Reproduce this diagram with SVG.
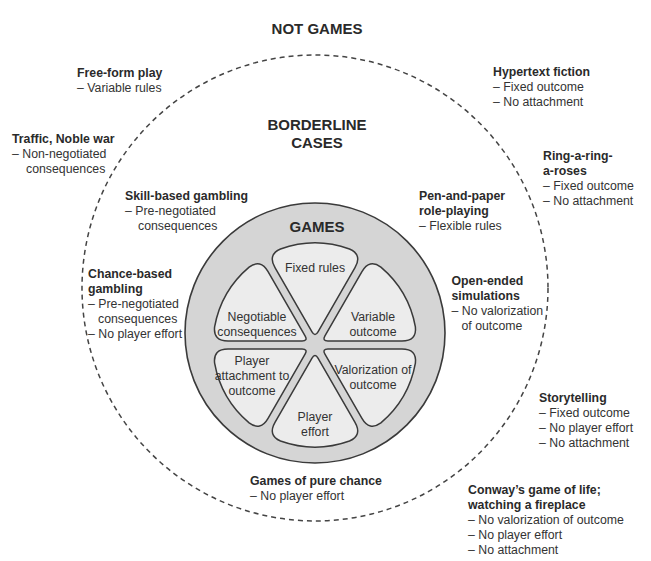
<svg xmlns="http://www.w3.org/2000/svg" xmlns:xlink="http://www.w3.org/1999/xlink" width="651" height="561" viewBox="0 0 651 561">
<style>
  .t { font-family: "Liberation Sans", Arial, sans-serif; font-size: 12.3px; fill: #333; }
  .b { font-weight: bold; fill: #2a2a2a; }
  .h { font-family: "Liberation Sans", Arial, sans-serif; font-size: 15px; font-weight: bold; fill: #2a2a2a; text-anchor: middle; }
  .c { text-anchor: middle; }
  .dash { fill: none; stroke: #444; stroke-width: 1.5; stroke-dasharray: 5 4; }
  .games { fill: #d5d5d5; stroke: #3a3a3a; stroke-width: 1.6; }
  .petal { fill: #ececec; stroke: #3a3a3a; stroke-width: 1.5; }
</style>
<defs>
  <path id="petal" d="M -3,-13.2 Q 0,-8 3,-13.2 L 40,-77.3 Q 47.5,-90.3 34.5,-96 A 102 102 0 0 0 -34.5,-96 Q -47.5,-90.3 -40,-77.3 Z"/>
</defs>
<rect width="651" height="561" fill="#ffffff"/>

<g id="not-games">
  <text class="h" x="317" y="34">NOT GAMES</text>
</g>

<g id="borderline">
  <circle class="dash" cx="315" cy="288" r="233"/>
  <text class="h" x="317" y="130">BORDERLINE</text>
  <text class="h" x="317" y="148">CASES</text>
</g>

<g id="games">
  <circle class="games" cx="315" cy="333" r="130"/>
  <text class="h" x="317" y="232">GAMES</text>
</g>

<g id="petal-fixed-rules">
  <use xlink:href="#petal" class="petal" transform="translate(315,345)"/>
  <text class="t c" x="315" y="272">Fixed rules</text>
</g>
<g id="petal-variable-outcome">
  <use xlink:href="#petal" class="petal" transform="translate(315,345) rotate(60)"/>
  <text class="t c" x="373" y="321">Variable</text>
  <text class="t c" x="373" y="336">outcome</text>
</g>
<g id="petal-valorization">
  <use xlink:href="#petal" class="petal" transform="translate(315,345) rotate(120)"/>
  <text class="t c" x="373" y="373.5">Valorization of</text>
  <text class="t c" x="373" y="388.5">outcome</text>
</g>
<g id="petal-player-effort">
  <use xlink:href="#petal" class="petal" transform="translate(315,345) rotate(180)"/>
  <text class="t c" x="315" y="421">Player</text>
  <text class="t c" x="315" y="436">effort</text>
</g>
<g id="petal-player-attachment">
  <use xlink:href="#petal" class="petal" transform="translate(315,345) rotate(240)"/>
  <text class="t c" x="252" y="365">Player</text>
  <text class="t c" x="252" y="380">attachment to</text>
  <text class="t c" x="252" y="395">outcome</text>
</g>
<g id="petal-negotiable">
  <use xlink:href="#petal" class="petal" transform="translate(315,345) rotate(300)"/>
  <text class="t c" x="257" y="321">Negotiable</text>
  <text class="t c" x="257" y="336">consequences</text>
</g>

<g id="free-form-play">
  <text class="t b" x="77" y="77">Free-form play</text>
  <text class="t" x="77" y="92">– Variable rules</text>
</g>
<g id="traffic">
  <text class="t b" x="12" y="143">Traffic, Noble war</text>
  <text class="t" x="12" y="158">– Non-negotiated</text>
  <text class="t" x="26" y="173">consequences</text>
</g>
<g id="skill-gambling">
  <text class="t b" x="125" y="200">Skill-based gambling</text>
  <text class="t" x="125" y="215">– Pre-negotiated</text>
  <text class="t" x="138" y="230">consequences</text>
</g>
<g id="chance-gambling">
  <text class="t b" x="88" y="277.5">Chance-based</text>
  <text class="t b" x="88" y="292.5">gambling</text>
  <text class="t" x="88" y="307.5">– Pre-negotiated</text>
  <text class="t" x="98" y="322.5">consequences</text>
  <text class="t" x="88" y="337.5">– No player effort</text>
</g>
<g id="pure-chance">
  <text class="t b" x="250" y="485">Games of pure chance</text>
  <text class="t" x="250" y="500">– No player effort</text>
</g>
<g id="hypertext">
  <text class="t b" x="493" y="75.5">Hypertext fiction</text>
  <text class="t" x="493" y="90.5">– Fixed outcome</text>
  <text class="t" x="493" y="105.5">– No attachment</text>
</g>
<g id="ring-a-roses">
  <text class="t b" x="543" y="160">Ring-a-ring-</text>
  <text class="t b" x="543" y="175">a-roses</text>
  <text class="t" x="543" y="190">– Fixed outcome</text>
  <text class="t" x="543" y="205">– No attachment</text>
</g>
<g id="pen-and-paper">
  <text class="t b" x="419" y="199.5">Pen-and-paper</text>
  <text class="t b" x="419" y="214.5">role-playing</text>
  <text class="t" x="419" y="229.5">– Flexible rules</text>
</g>
<g id="open-ended">
  <text class="t b" x="451.5" y="284.5">Open-ended</text>
  <text class="t b" x="451.5" y="299.5">simulations</text>
  <text class="t" x="451.5" y="314.5">– No valorization</text>
  <text class="t" x="461.5" y="329.5">of outcome</text>
</g>
<g id="storytelling">
  <text class="t b" x="539" y="402">Storytelling</text>
  <text class="t" x="539" y="417">– Fixed outcome</text>
  <text class="t" x="539" y="432">– No player effort</text>
  <text class="t" x="539" y="447">– No attachment</text>
</g>
<g id="conway">
  <text class="t b" x="468" y="493.5">Conway’s game of life;</text>
  <text class="t b" x="468" y="508.5">watching a fireplace</text>
  <text class="t" x="468" y="523.5">– No valorization of outcome</text>
  <text class="t" x="468" y="538.5">– No player effort</text>
  <text class="t" x="468" y="553.5">– No attachment</text>
</g>
</svg>
